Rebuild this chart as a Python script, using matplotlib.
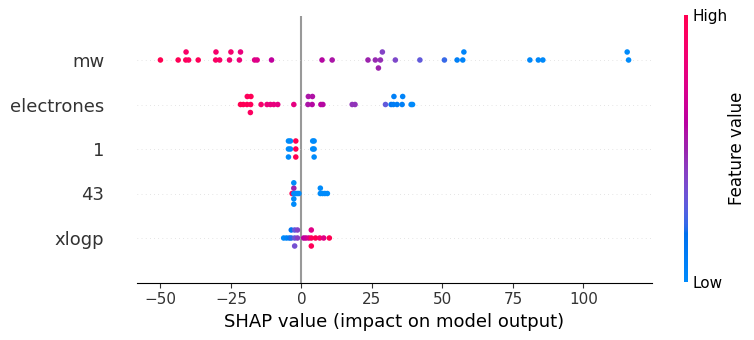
import numpy as np
import matplotlib
matplotlib.use('Agg')
import matplotlib.pyplot as plt
from matplotlib.colors import LinearSegmentedColormap
from matplotlib import cm

# rows from bottom to top
features = ['xlogp', '43', '1', 'electrones', 'mw']

mw_shap = [-50.0, -43.7, -41.0, -40.9, -40.0, -36.6, -30.4, -30.3, -29.0, -25.5, -25.0,
           -22.0, -21.6, -16.6, -15.7, -10.6, 7.3, 10.9, 23.6, 26.2, 28.0, 28.7, 27.3,
           33.3, 42.0, 50.7, 55.2, 57.2, 57.6, 81.0, 84.0, 85.6, 116.0, 115.5]
mw_val = [1.0, 0.98, 0.95, 0.9, 0.93, 0.97, 0.92, 0.88, 0.9, 0.85, 0.87,
          0.82, 0.8, 0.75, 0.74, 0.62, 0.58, 0.55, 0.5, 0.48, 0.47, 0.4, 0.5,
          0.38, 0.3, 0.22, 0.08, 0.05, 0.04, 0.02, 0.02, 0.01, 0.0, 0.0]

el_shap = [-21.6, -20.6, -19.3, -19.2, -18.0, -17.9, -18.1, -14.3, -12.2, -11.0, -9.8,
           -8.4, -2.7, 2.3, 2.45, 3.8, 3.9, 6.9, 7.6, 18.0, 19.0, 29.8, 31.8, 32.6,
           32.8, 33.9, 35.7, 35.9, 38.9, 39.4]
el_val = [1.0, 0.98, 0.97, 0.95, 0.96, 0.98, 0.93, 0.88, 0.82, 0.8, 0.8,
          0.78, 0.78, 0.55, 0.55, 0.58, 0.56, 0.6, 0.58, 0.45, 0.45, 0.3, 0.15, 0.1,
          0.08, 0.1, 0.08, 0.05, 0.02, 0.0]

f1_shap = [-4.6, -4.6, -4.6, -3.9, -3.9, -2.0, -2.0, -2.0, 4.0, 4.0, 4.5, 4.5, 4.5]
f1_val = [0.0, 0.0, 0.0, 0.0, 0.0, 1.0, 1.0, 1.0, 0.0, 0.0, 0.0, 0.0, 0.0]

f43_shap = [-3.3, -2.7, -2.7, -2.7, -2.7, -2.7, -2.1, -1.5, -0.9, 6.7, 6.7, 7.5, 8.3, 9.2]
f43_val = [1.0, 0.0, 0.5, 0.0, 0.0, 0.0, 0.0, 0.0, 0.0, 0.0, 0.0, 0.0, 0.0, 0.0]

xl_shap = [-6.3, -5.3, -4.3, -3.6, -3.6, -2.4, -2.4, -2.4, -1.4, -1.4, 0.8, 1.6, 2.6,
           3.5, 3.5, 3.5, 5.0, 6.5, 7.9, 9.9]
xl_val = [0.0, 0.05, 0.1, 0.2, 0.15, 0.32, 0.3, 0.35, 0.42, 0.4, 0.6, 0.65, 0.72,
          0.95, 0.75, 0.97, 1.0, 0.9, 0.75, 1.0]

rows = [(xl_shap, xl_val), (f43_shap, f43_val), (f1_shap, f1_val),
        (el_shap, el_val), (mw_shap, mw_val)]


# shap style red-blue colormap, interpolated in LCH space
def lch2rgb(l, c, h):
    a, b = c * np.cos(h), c * np.sin(h)
    fy = (l + 16) / 116
    fx, fz = fy + a / 500, fy - b / 200
    finv = lambda t: t ** 3 if t > 6 / 29 else 3 * (6 / 29) ** 2 * (t - 4 / 29)
    xyz = np.array([0.95047 * finv(fx), finv(fy), 1.08883 * finv(fz)])
    M = np.array([[3.2404542, -1.5371385, -0.4985314],
                  [-0.9692660, 1.8760108, 0.0415560],
                  [0.0556434, -0.2040259, 1.0572252]])
    lin = M @ xyz
    rgb = np.where(lin > 0.0031308, 1.055 * np.abs(lin) ** (1 / 2.4) - 0.055, 12.92 * lin)
    return np.clip(rgb, 0, 1)

n = 100
ls = list(np.linspace(54, 40, n // 2)) + list(np.linspace(40, 54, n // 2))
cs = np.linspace(70, 90, n)
hs = np.linspace(4.6588, 0.35470565 + 2 * np.pi, n)
cmap = LinearSegmentedColormap.from_list('red_blue', [lch2rgb(l, c, h) for l, c, h in zip(ls, cs, hs)])


def swarm(vals, row_height=0.4):
    vals = np.asarray(vals)
    quant = np.round(100 * (vals - vals.min()) / (vals.max() - vals.min() + 1e-8))
    inds = np.argsort(quant, kind='stable')
    ys = np.zeros(len(vals))
    layer, last = 0, -1
    for i in inds:
        if quant[i] != last:
            layer = 0
        ys[i] = np.ceil(layer / 2) * ((layer % 2) * 2 - 1)
        layer += 1
        last = quant[i]
    return ys * 0.9 * (row_height / np.max(ys + 1))


fig = plt.figure(figsize=(7.54, 3.4), dpi=100)
ax = fig.add_axes([137 / 754, 57.5 / 340, 515 / 754, 267 / 340])
ax.axvline(0, color='#999999', zorder=-1)
for pos, (s, v) in enumerate(rows):
    ax.axhline(pos, color='#cccccc', lw=0.5, dashes=(1, 5), zorder=-1)
    ax.scatter(s, pos + swarm(s), c=v, cmap=cmap, vmin=0, vmax=1, s=16, linewidth=0, zorder=3)

axis_color = '#333333'
ax.xaxis.set_ticks_position('bottom')
ax.yaxis.set_ticks_position('none')
for sp in ['right', 'top', 'left']:
    ax.spines[sp].set_visible(False)
ax.tick_params(color=axis_color, labelcolor=axis_color)
ax.set_yticks(range(len(features)))
ax.set_yticklabels(features, fontsize=13)
ax.tick_params('y', length=20, width=0.5, which='major')
ax.tick_params('x', labelsize=11)
ax.set_ylim(-1, len(features))
ax.set_xticks([-50, -25, 0, 25, 50, 75, 100])
ax.set_xlabel('SHAP value (impact on model output)', fontsize=13)

cax = fig.add_axes([684 / 754, 58 / 340, 4 / 754, 267 / 340])
m = cm.ScalarMappable(cmap=cmap)
m.set_array([0, 1])
cb = fig.colorbar(m, cax=cax, ticks=[0, 1])
cb.set_ticklabels(['Low', 'High'])
cb.set_label('Feature value', size=12, labelpad=0)
cb.ax.tick_params(labelsize=11, length=0)
cb.outline.set_visible(False)

fig.savefig('out.png', dpi=100)
